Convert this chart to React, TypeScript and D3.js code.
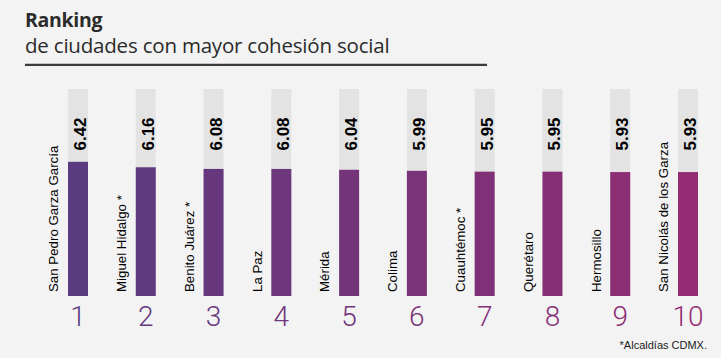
import React from "react";
import * as d3 from "d3";

const cities = [
  "San Pedro Garza García",
  "Miguel Hidalgo *",
  "Benito Juárez *",
  "La Paz",
  "Mérida",
  "Colima",
  "Cuauhtémoc *",
  "Querétaro",
  "Hermosillo",
  "San Nicolás de los Garza",
];
const ranks = ["1", "2", "3", "4", "5", "6", "7", "8", "9", "10"];
const scores = [6.42, 6.16, 6.08, 6.08, 6.04, 5.99, 5.95, 5.95, 5.93, 5.93];
const valueLabels = ["6.42", "6.16", "6.08", "6.08", "6.04", "5.99", "5.95", "5.95", "5.93", "5.93"];
const scoreMax = 10;

const W = 721;
const H = 358;

export default function App() {
  const x = d3
    .scaleBand<string>()
    .domain(ranks)
    .range([68, 698])
    .paddingInner(0.705)
    .paddingOuter(0);
  const y = d3.scaleLinear().domain([0, scoreMax]).range([296, 87]);
  const color = d3
    .scaleLinear<string>()
    .domain([0, ranks.length - 1])
    .range(["#5b3b80", "#932b73"])
    .interpolate(d3.interpolateRgb);
  const bw = x.bandwidth();
  const greyTop = 89;

  return (
    <svg
      width={W}
      height={H}
      style={{ position: "absolute", left: 0, top: 0, background: "#f3f3f3" }}
    >
      <rect x={0} y={0} width={W} height={H} fill="#f3f3f3" />
      <text
        x={25}
        y={26.5}
        fontFamily="'Open Sans', sans-serif"
        fontWeight={700}
        fontSize={19.5}
        letterSpacing={-0.3}
        fill="#2b2b2b"
      >
        Ranking
      </text>
      <text
        x={25}
        y={53}
        fontFamily="'Open Sans', sans-serif"
        fontSize={20.5}
        letterSpacing={-0.2}
        fill="#2b2b2b"
      >
        de ciudades con mayor cohesión social
      </text>
      <line x1={25} x2={487} y1={64.8} y2={64.8} stroke="#3a3a3a" strokeWidth={2.3} />

      {ranks.map((r, i) => {
        const x0 = x(r) as number;
        const cx = x0 + bw / 2;
        return (
          <g key={r}>
            <rect x={x0} y={greyTop} width={bw} height={y(0) - greyTop} fill="#e3e3e3" />
            <rect
              x={x0}
              y={y(scores[i])}
              width={bw}
              height={y(0) - y(scores[i])}
              fill={color(i)}
            />
            <text
              transform={`translate(${x0 + 18},134) rotate(-90)`}
              textAnchor="middle"
              fontFamily="'Liberation Sans', Arial, sans-serif"
              fontWeight={700}
              fontSize={17}
              fill="#000"
            >
              {valueLabels[i]}
            </text>
            <text
              transform={`translate(${x0 - 9.7},292) rotate(-90)`}
              textAnchor="start"
              fontFamily="'Liberation Sans', Arial, sans-serif"
              fontSize={13.3}
              fill="#000"
            >
              {cities[i]}
            </text>
            <text
              x={cx}
              y={325.5}
              textAnchor="middle"
              fontFamily="Roboto, 'Liberation Sans', sans-serif"
              fontWeight={300}
              fontSize={28}
              fill={color(i)}
            >
              {r}
            </text>
          </g>
        );
      })}
      <text
        x={707}
        y={349}
        textAnchor="end"
        fontFamily="'Liberation Sans', Arial, sans-serif"
        fontSize={11}
        fill="#222"
      >
        *Alcaldías CDMX.
      </text>
    </svg>
  );
}
